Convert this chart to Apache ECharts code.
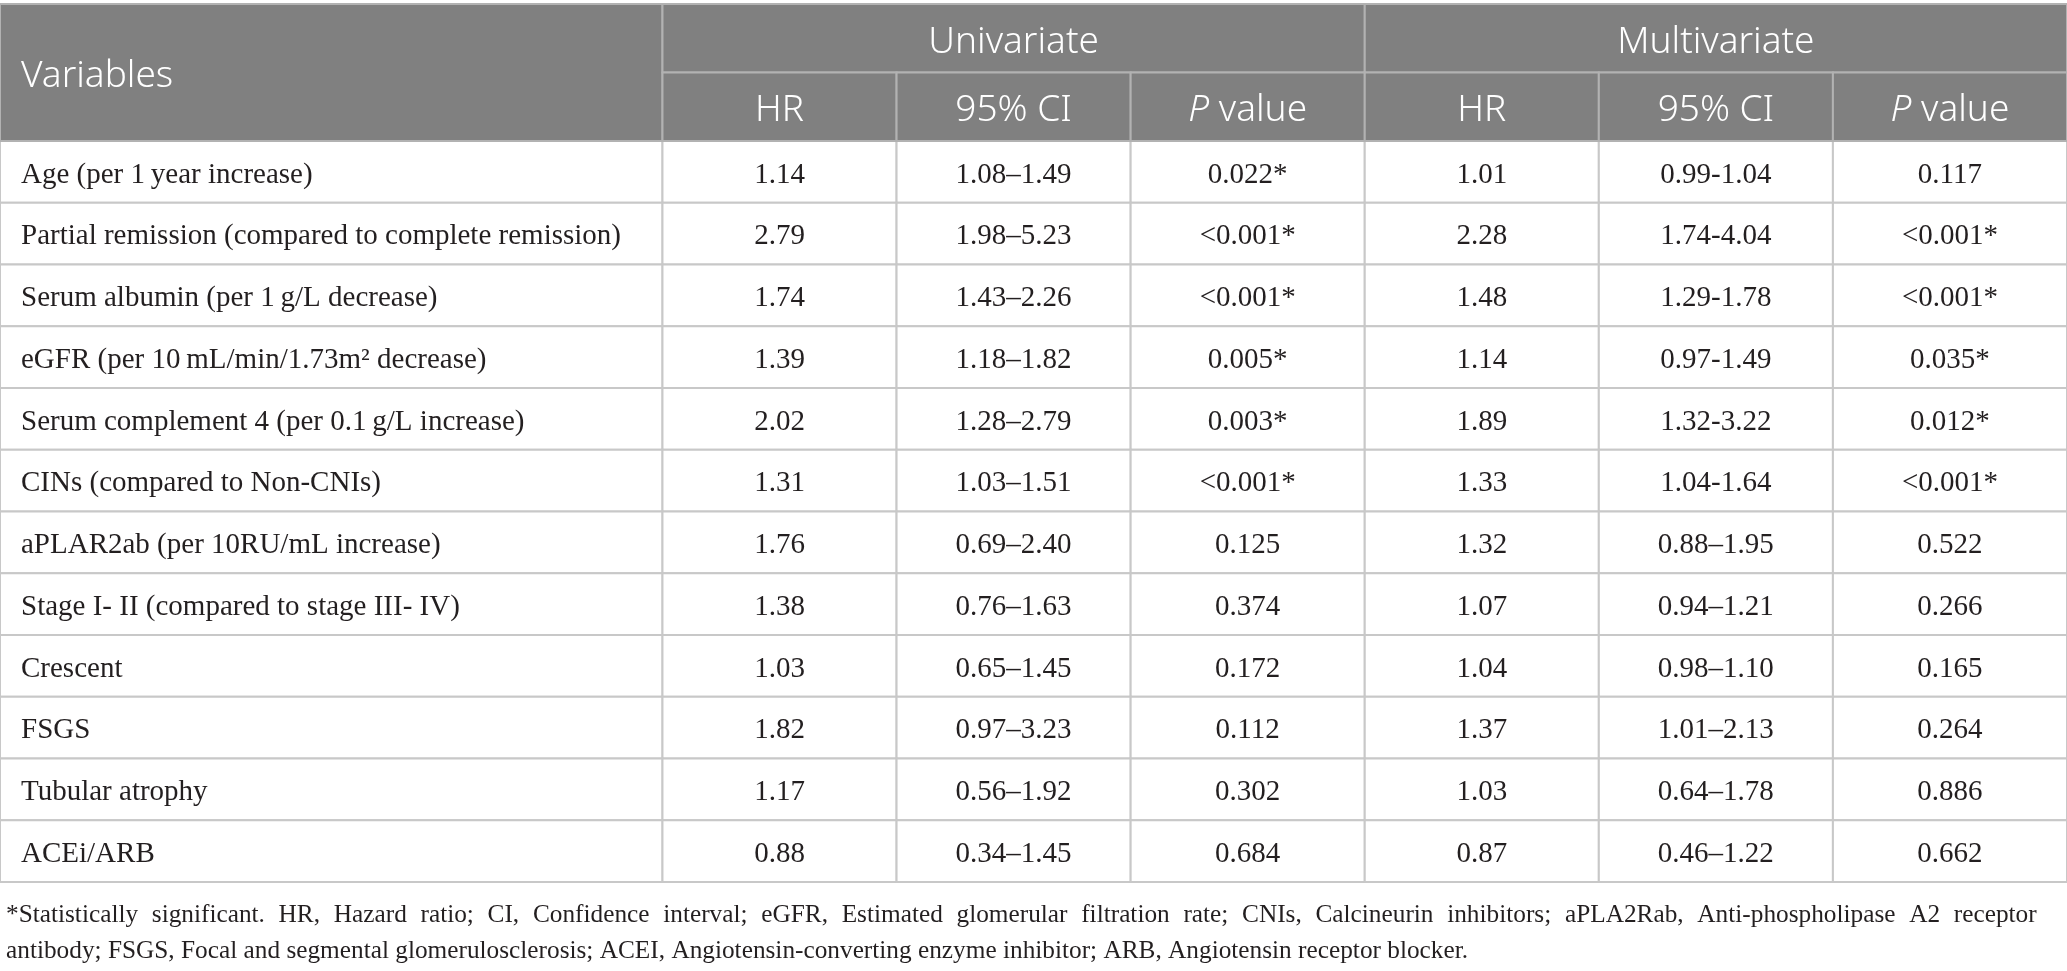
<!DOCTYPE html>
<html><head><meta charset="utf-8">
<script src="https://cdn.jsdelivr.net/npm/echarts@6/dist/echarts.min.js"></script>
<style>html,body{margin:0;padding:0;background:#fff}#c{width:2067px;height:971px}</style>
</head><body><div id="c"></div>
<script>
// ---- data ----
const variables = [
  'Age (per 1\u2009year increase)',
  'Partial remission (compared to complete remission)',
  'Serum albumin (per 1\u2009g/L decrease)',
  'eGFR (per 10\u2009mL/min/1.73m\u00b2 decrease)',
  'Serum complement 4 (per 0.1\u2009g/L increase)',
  'CINs (compared to Non-CNIs)',
  'aPLAR2ab (per 10RU/mL increase)',
  'Stage I- II (compared to stage III- IV)',
  'Crescent',
  'FSGS',
  'Tubular atrophy',
  'ACEi/ARB'
];
const uniHR = ['1.14','2.79','1.74','1.39','2.02','1.31','1.76','1.38','1.03','1.82','1.17','0.88'];
const uniCI = ['1.08\u20131.49','1.98\u20135.23','1.43\u20132.26','1.18\u20131.82','1.28\u20132.79','1.03\u20131.51','0.69\u20132.40','0.76\u20131.63','0.65\u20131.45','0.97\u20133.23','0.56\u20131.92','0.34\u20131.45'];
const uniP = ['0.022*','<0.001*','<0.001*','0.005*','0.003*','<0.001*','0.125','0.374','0.172','0.112','0.302','0.684'];
const multiHR = ['1.01','2.28','1.48','1.14','1.89','1.33','1.32','1.07','1.04','1.37','1.03','0.87'];
const multiCI = ['0.99-1.04','1.74-4.04','1.29-1.78','0.97-1.49','1.32-3.22','1.04-1.64','0.88\u20131.95','0.94\u20131.21','0.98\u20131.10','1.01\u20132.13','0.64\u20131.78','0.46\u20131.22'];
const multiP = ['0.117','<0.001*','<0.001*','0.035*','0.012*','<0.001*','0.522','0.266','0.165','0.264','0.886','0.662'];
const firstHeader = 'Variables';
const groupHeaders = ['Univariate','Multivariate'];
const subHeaders = ['HR','95% CI','{it|P} value'];
const footnoteLines = [
  '*Statistically significant. HR, Hazard ratio; CI, Confidence interval; eGFR, Estimated glomerular filtration rate; CNIs, Calcineurin inhibitors; aPLA2Rab, Anti-phospholipase A2 receptor',
  'antibody; FSGS, Focal and segmental glomerulosclerosis; ACEI, Angiotensin-converting enzyme inhibitor; ARB, Angiotensin receptor blocker.'
];

// ---- layout (table grid in axis units) ----
const FIRST_W = 2.83;            // width of the Variables column (data column = 1)
const HEAD_H = 1.11;             // height of each header row (data row = 1)
const colEdges = [0];
colEdges.push(FIRST_W);
for (let i = 1; i <= 6; i++) colEdges.push(FIRST_W + i);
const nRows = variables.length;
const yMax = 2 * HEAD_H + nRows;
const rowTop = r => 2 * HEAD_H + r;

const HEAD_FONT = 'Noto Sans';
const BODY_FONT = 'Liberation Serif';
const NOTE_SIZE = 25.3;

// justified first footnote line: widen its word gaps
const noteText = footnoteLines[0].split(' ').join('{sp| }') + '\n' + footnoteLines[1];

// ---- build cells ----
const cells = [];
cells.push({v:[colEdges[0], 0, colEdges[1], 2*HEAD_H], text:firstHeader, kind:'head', align:'left'});
groupHeaders.forEach((g, gi) => {
  cells.push({v:[colEdges[1+gi*3], 0, colEdges[4+gi*3], HEAD_H], text:g, kind:'head', align:'center'});
  subHeaders.forEach((s, si) => {
    const c = 1 + gi*3 + si;
    cells.push({v:[colEdges[c], HEAD_H, colEdges[c+1], 2*HEAD_H], text:s, kind:'head', align:'center'});
  });
});
const cols = [uniHR, uniCI, uniP, multiHR, multiCI, multiP];
variables.forEach((name, r) => {
  cells.push({v:[colEdges[0], rowTop(r), colEdges[1], rowTop(r)+1], text:name, kind:'body', align:'left'});
  cols.forEach((arr, ci) => {
    cells.push({v:[colEdges[ci+1], rowTop(r), colEdges[ci+2], rowTop(r)+1], text:arr[r], kind:'body', align:'center'});
  });
});
// draw body first, header on top
cells.sort((a,b) => (a.kind==='head') - (b.kind==='head'));

const chart = echarts.init(document.getElementById('c'), null, {renderer:'canvas'});
chart.setOption({
  backgroundColor:'#ffffff',
  animation:false,
  title:{
    text: noteText, left: 1, top: 892,
    textStyle:{fontFamily:BODY_FONT, fontSize:NOTE_SIZE, fontWeight:'normal', color:'#231f20', lineHeight:36,
      rich:{sp:{fontFamily:BODY_FONT, fontSize:NOTE_SIZE, width:13.7, lineHeight:36, color:'#231f20'}}}
  },
  grid:{left:0, right:0, top:4, bottom:89},
  xAxis:{type:'value', min:0, max:colEdges[colEdges.length-1], show:false},
  yAxis:{type:'value', min:0, max:yMax, inverse:true, show:false},
  series:[{
    type:'custom',
    coordinateSystem:'cartesian2d',
    data: cells.map(c => c.v),
    encode:{x:[0,2], y:[1,3]},
    renderItem: function(params, api){
      const c = cells[params.dataIndex];
      const p0 = api.coord([api.value(0), api.value(1)]);
      const p1 = api.coord([api.value(2), api.value(3)]);
      const x = Math.min(p0[0], p1[0]), w = Math.abs(p1[0]-p0[0]);
      const y = Math.min(p0[1], p1[1]), h = Math.abs(p1[1]-p0[1]);
      const head = c.kind === 'head';
      const font = head ? HEAD_FONT : BODY_FONT;
      const size = head ? 37 : 29;
      const color = head ? '#ffffff' : '#231f20';
      const weight = head ? 300 : 'normal';
      const dy = head ? 4 : 3;
      return {
        type:'group',
        children:[
          {type:'rect', shape:{x:x, y:y, width:w, height:h},
           style:{fill: head ? '#808080' : '#ffffff', stroke: head ? '#b2b2b2' : '#c8c8c8', lineWidth:2}},
          {type:'text',
           style:{
             text:c.text, x: c.align==='left' ? x+21 : x+w/2, y: y+h/2+dy,
             align:c.align, verticalAlign:'middle',
             fontFamily:font, fontSize:size, fontWeight:weight, fill:color,
             rich:{it:{fontFamily:font, fontSize:size, fontWeight:weight, fontStyle:'italic', fill:color}}
           }}
        ]
      };
    }
  }]
});
</script>
</body></html>
